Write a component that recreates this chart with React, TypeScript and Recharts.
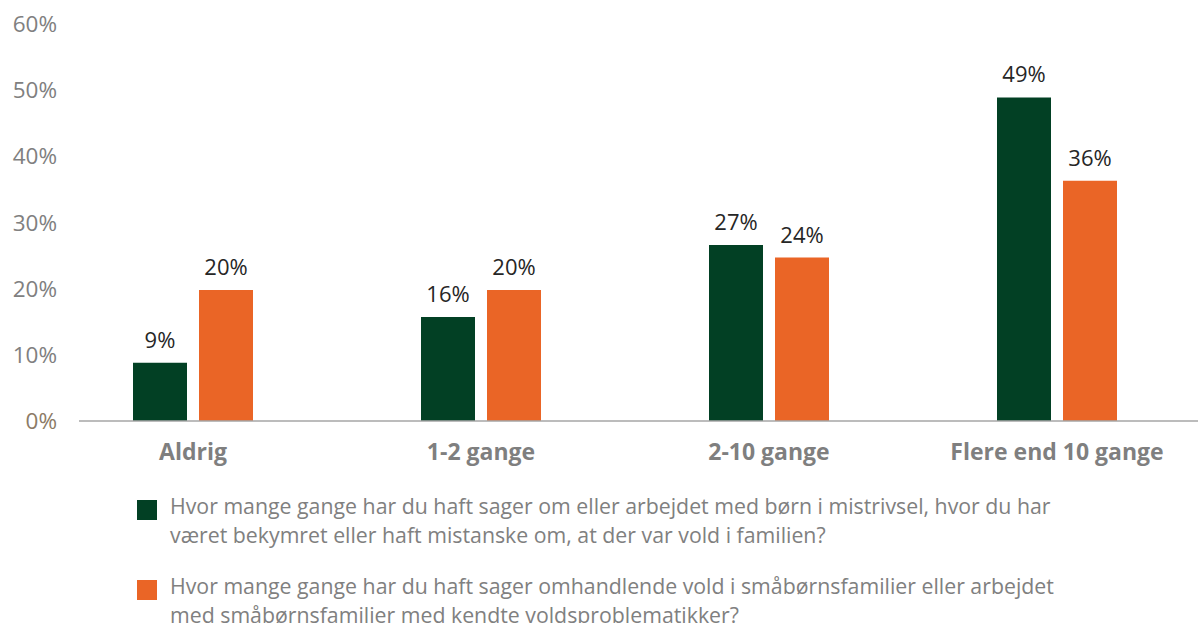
import { BarChart, Bar, XAxis, YAxis, LabelList, Legend } from "recharts"

const categories = ["Aldrig", "1-2 gange", "2-10 gange", "Flere end 10 gange"]

// green series: børn i mistrivsel
const mistrivselValues = [8.8, 15.7, 26.6, 48.9]
const mistrivselLabels = ["9%", "16%", "27%", "49%"]

// orange series: småbørnsfamilier med vold
const voldValues = [19.8, 19.8, 24.7, 36.3]
const voldLabels = ["20%", "20%", "24%", "36%"]

const yTicks = [0, 10, 20, 30, 40, 50, 60]

const seriesNames = [
  "Hvor mange gange har du haft sager om eller arbejdet med børn i mistrivsel, hvor du har\nværet bekymret eller haft mistanske om, at der var vold i familien?",
  "Hvor mange gange har du haft sager omhandlende vold i småbørnsfamilier eller arbejdet\nmed småbørnsfamilier med kendte voldsproblematikker?",
]

const GREEN = "#024024"
const ORANGE = "#EA6526"
const FONT = "'Open Sans', sans-serif"

const chartData = categories.map((name, i) => ({
  name,
  mistrivsel: mistrivselValues[i],
  mistrivselLabel: mistrivselLabels[i],
  vold: voldValues[i],
  voldLabel: voldLabels[i],
}))

// y ticks: grey, except the 0% tick which is a brownish tone
const YTick = ({ x, y, payload }: any) => (
  <text
    x={x}
    y={y}
    dy={8}
    textAnchor="end"
    fontSize={22.5}
    fontFamily={FONT}
    fill={payload.value === 0 ? "#8c7b66" : "#808080"}
  >
    {payload.value}%
  </text>
)

const LegendContent = ({ payload }: any) => (
  <div style={{ paddingTop: 11, fontFamily: FONT }}>
    {(payload || []).map((entry: any, i: number) => (
      <div key={i} style={{ position: "relative", paddingLeft: 170, marginBottom: 22 }}>
        <div
          style={{
            position: "absolute",
            left: 137,
            top: 9,
            width: 20,
            height: 20,
            backgroundColor: entry.color,
          }}
        />
        <div style={{ fontSize: 21.3, lineHeight: "29px", color: "#808080", whiteSpace: "pre-line" }}>
          {entry.value}
        </div>
      </div>
    ))}
  </div>
)

export default function App() {
  return (
    <div style={{ position: "absolute", left: 0, top: 0, width: 1198, height: 623, background: "#fff", overflow: "hidden" }}>
      <BarChart
        width={1198}
        height={623}
        data={chartData}
        margin={{ top: 24, right: 0, bottom: 3, left: 0 }}
        barSize={54}
        barGap={12}
        style={{ fontFamily: FONT }}
      >
        <XAxis
          dataKey="name"
          padding={{ left: -30, right: -3 }}
          height={59}
          tickLine={false}
          tickSize={0}
          tickMargin={23}
          axisLine={{ stroke: "#a6a6a6", strokeWidth: 1.5 }}
          tick={{ fill: "#7f7f7f", fontSize: 23, fontWeight: 700 }}
          interval={0}
        />
        <YAxis
          width={79}
          domain={[0, 60]}
          ticks={yTicks}
          axisLine={false}
          tickLine={false}
          tickSize={0}
          tickMargin={22}
          tick={<YTick />}
        />
        <Legend
          verticalAlign="bottom"
          align="left"
          height={140}
          content={<LegendContent />}
        />
        <Bar dataKey="mistrivsel" name={seriesNames[0]} fill={GREEN} isAnimationActive={false}>
          <LabelList dataKey="mistrivselLabel" position="top" offset={15} fill="#262626" fontSize={22} />
        </Bar>
        <Bar dataKey="vold" name={seriesNames[1]} fill={ORANGE} isAnimationActive={false}>
          <LabelList dataKey="voldLabel" position="top" offset={15} fill="#262626" fontSize={22} />
        </Bar>
      </BarChart>
    </div>
  )
}
